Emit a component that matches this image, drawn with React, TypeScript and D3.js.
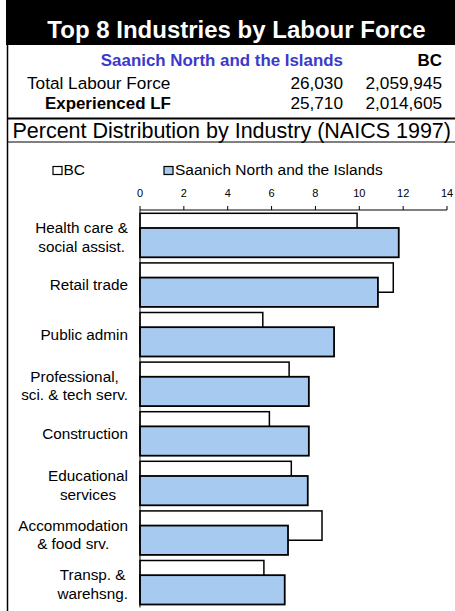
import React from "react";
import * as d3 from "d3";

const categories = [
  ["Health care &", "social assist."],
  ["Retail trade"],
  ["Public admin"],
  ["Professional,", "sci. & tech serv."],
  ["Construction"],
  ["Educational", "services"],
  ["Accommodation", "& food srv."],
  ["Transp. &", "warehsng."],
];
const bcValues = [9.9, 11.55, 5.6, 6.8, 5.9, 6.9, 8.3, 5.65];
const regionValues = [11.8, 10.85, 8.85, 7.7, 7.7, 7.65, 6.75, 6.6];
const ticks = [0, 2, 4, 6, 8, 10, 12, 14];
const regionName = "Saanich North and the Islands";
const totalLF = ["26,030", "2,059,945"];
const experiencedLF = ["25,710", "2,014,605"];

const FONT = "'Liberation Sans', Arial, sans-serif";
const BLUE = "#A6CAF0";

let ctx: CanvasRenderingContext2D | null = null;
function measure(text: string, size: number) {
  if (!ctx) ctx = document.createElement("canvas").getContext("2d");
  if (!ctx) return text.length * size * 0.5;
  ctx.font = `${size}px ${FONT}`;
  return ctx.measureText(text).width;
}

export default function App() {
  const W = 455;
  const H = 611;
  const x = d3.scaleLinear().domain([0, 14]).range([140, 447]);
  const keys = categories.map((_, i) => String(i));
  const y = d3
    .scaleBand<string>()
    .domain(keys)
    .range([210.5, 607.3])
    .paddingInner(0.113)
    .paddingOuter(0.0565);
  const bw = y.bandwidth();
  const bh = (bw * 2) / 3;
  const labelSize = 15.3;

  return (
    <svg
      width={W}
      height={H}
      style={{ position: "absolute", left: 0, top: 0 }}
      fontFamily={FONT}
    >
      <rect x={0} y={0} width={W} height={H} fill="#fff" />
      {/* Header */}
      <rect x={6} y={0} width={W - 6} height={45} fill="#000" />
      <text x={236.5} y={38} fill="#fff" fontSize={24} fontWeight="bold" textAnchor="middle">
        Top 8 Industries by Labour Force
      </text>
      <line x1={7.5} x2={7.5} y1={45} y2={H} stroke="#000" strokeWidth={1.5} />
      <text x={343} y={66} fill="#3a3acc" fontSize={16.9} fontWeight="bold" textAnchor="end">
        {regionName}
      </text>
      <text x={442} y={66} fill="#000" fontSize={16.9} fontWeight="bold" textAnchor="end">
        BC
      </text>
      <text x={27} y={89} fontSize={17.2}>Total Labour Force</text>
      <text x={343} y={89} fontSize={17.2} textAnchor="end">{totalLF[0]}</text>
      <text x={442} y={89} fontSize={17.2} textAnchor="end">{totalLF[1]}</text>
      <text x={45} y={108.5} fontSize={16.9} fontWeight="bold">Experienced LF</text>
      <text x={343} y={108.5} fontSize={17.2} textAnchor="end">{experiencedLF[0]}</text>
      <text x={442} y={108.5} fontSize={17.2} textAnchor="end">{experiencedLF[1]}</text>
      <line x1={7} x2={W} y1={118.5} y2={118.5} stroke="#000" strokeWidth={2} />
      <text x={231.7} y={138} fontSize={21.5} textAnchor="middle">
        Percent Distribution by Industry (NAICS 1997)
      </text>
      <line x1={7} x2={W} y1={142} y2={142} stroke="#000" strokeWidth={1} />

      {/* Legend */}
      <rect x={53} y={166.5} width={9} height={8} fill="#fff" stroke="#000" strokeWidth={1.2} />
      <text x={63.5} y={175} fontSize={15.5}>BC</text>
      <rect x={164} y={166.5} width={9} height={8} fill={BLUE} stroke="#000" strokeWidth={1.2} />
      <text x={175} y={175} fontSize={15.5}>{regionName}</text>

      {/* Axis */}
      {ticks.map((t) => (
        <g key={t}>
          <text x={x(t)} y={197} fontSize={11} textAnchor="middle">{t}</text>
          <line x1={x(t)} x2={x(t)} y1={206} y2={210} stroke="#000" strokeWidth={1} />
        </g>
      ))}

      {/* Bars */}
      {keys.map((k, i) => (
        <g key={k}>
          <rect
            x={x(0)}
            y={y(k)!}
            width={x(bcValues[i]) - x(0)}
            height={bh}
            fill="#fff"
            stroke="#000"
            strokeWidth={1.5}
          />
          <rect
            x={x(0)}
            y={y(k)! + bw / 3}
            width={x(regionValues[i]) - x(0)}
            height={bh}
            fill={BLUE}
            stroke="#000"
            strokeWidth={1.8}
          />
        </g>
      ))}
      <line x1={x(0)} x2={x(14)} y1={210} y2={210} stroke="#000" strokeWidth={1} />
      <line x1={x(0)} x2={x(0)} y1={210} y2={607.5} stroke="#000" strokeWidth={1} />

      {/* Category labels */}
      {keys.map((k, i) => {
        const lines = categories[i];
        const maxW = Math.max(...lines.map((l) => measure(l, labelSize)));
        const cx = 128 - maxW / 2;
        const c = y(k)! + bw / 2;
        const lh = 18.5;
        return (
          <g key={k}>
            {lines.map((l, j) => (
              <text
                key={j}
                x={cx}
                y={c + 5.5 + (j - (lines.length - 1) / 2) * lh + (lines.length > 1 ? 1.5 : 0)}
                fontSize={labelSize}
                textAnchor="middle"
              >
                {l}
              </text>
            ))}
          </g>
        );
      })}
    </svg>
  );
}
